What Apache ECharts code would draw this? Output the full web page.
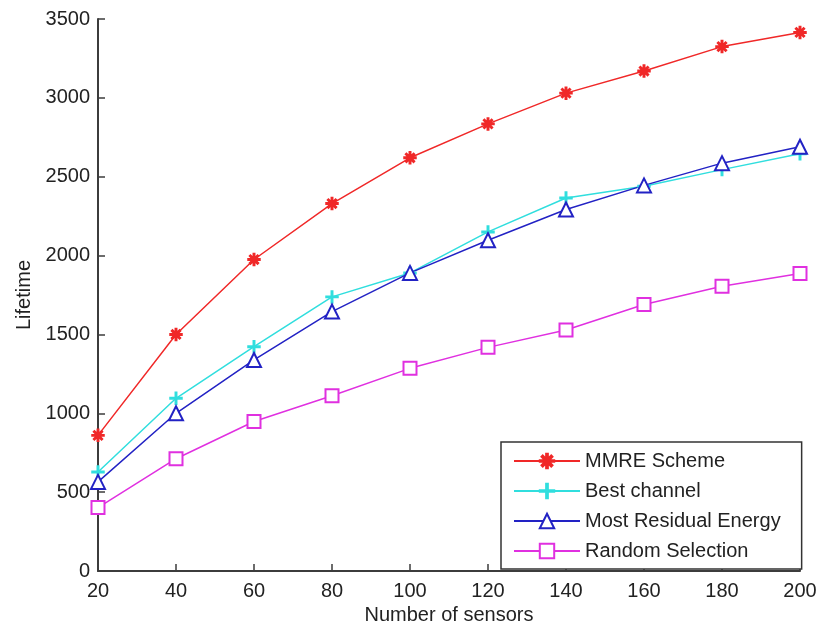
<!DOCTYPE html>
<html>
<head>
<meta charset="utf-8">
<script src="https://cdn.jsdelivr.net/npm/echarts@6/dist/echarts.min.js"></script>
<style>
  html, body { margin: 0; padding: 0; background: #fff; }
  #chart { width: 820px; height: 631px; }
</style>
</head>
<body>
<div id="chart"></div>
<script>
// 传感器数量
const sensors = [20, 40, 60, 80, 100, 120, 140, 160, 180, 200];
const mmre = [860, 1500, 1975, 2330, 2620, 2835, 3030, 3170, 3325, 3415];
const bestChannel = [628, 1095, 1422, 1738, 1890, 2150, 2365, 2440, 2545, 2645];
const mostResidual = [565, 1000, 1338, 1645, 1890, 2097, 2292, 2445, 2586, 2690];
const randomSel = [402, 712, 948, 1111, 1285, 1418, 1528, 1690, 1806, 1886];
const names = ['MMRE Scheme', 'Best channel', 'Most Residual Energy', 'Random Selection'];

const pair = (arr) => sensors.map((x, i) => [x, arr[i]]);

// matlab 风格的 * 和 + 标记
const starPath = 'path://M4.4,0 L5.6,0 L5.6,10 L4.4,10 Z M0,4.4 L10,4.4 L10,5.6 L0,5.6 Z ' +
    'M2.04,1.2 L8.8,7.96 L7.96,8.8 L1.2,2.04 Z M7.96,1.2 L8.8,2.04 L2.04,8.8 L1.2,7.96 Z';
const plusPath = 'path://M4.4,0 L5.6,0 L5.6,4.4 L10,4.4 L10,5.6 L5.6,5.6 L5.6,10 L4.4,10 L4.4,5.6 L0,5.6 L0,4.4 L4.4,4.4 Z';

const font = 'Liberation Sans, Arial, sans-serif';
const axisColor = '#3c3c3c';

const makeSeries = (name, arr, color, symbol, size) => ({
    name: name,
    type: 'line',
    data: pair(arr),
    symbol: symbol,
    symbolSize: size,
    showAllSymbol: true,
    lineStyle: { color: color, width: 1.5 },
    itemStyle: { color: color, borderColor: color, borderWidth: 1.5 },
    emphasis: { disabled: true },
});

const chart = echarts.init(document.getElementById('chart'));
chart.setOption({
    animation: false,
    grid: { left: 98, right: 20, top: 19, bottom: 60 },
    legend: {
        left: 501,
        top: 442,
        orient: 'vertical',
        data: names,
        backgroundColor: '#fff',
        borderColor: '#333',
        borderWidth: 1.5,
        borderRadius: 0,
        padding: [9, 21, 8, 12],
        itemGap: 10,
        itemWidth: 66,
        itemHeight: 18,
        textStyle: { fontFamily: font, fontSize: 20, color: '#222', lineHeight: 20 },
    },
    xAxis: {
        type: 'value',
        min: 20,
        max: 200,
        interval: 20,
        name: 'Number of sensors',
        nameLocation: 'middle',
        nameGap: 31,
        nameTextStyle: { fontFamily: font, fontSize: 20, color: '#222' },
        axisLine: { lineStyle: { color: axisColor, width: 2 } },
        axisTick: { inside: true, length: 7, lineStyle: { color: axisColor, width: 1.5 } },
        axisLabel: { fontFamily: font, fontSize: 20, color: '#222', margin: 10 },
        splitLine: { show: false },
    },
    yAxis: {
        type: 'value',
        min: 0,
        max: 3500,
        interval: 500,
        name: 'Lifetime',
        nameLocation: 'middle',
        nameGap: 63,
        nameTextStyle: { fontFamily: font, fontSize: 20, color: '#222' },
        axisLine: { show: true, lineStyle: { color: axisColor, width: 2 } },
        axisTick: { show: true, inside: true, length: 7, lineStyle: { color: axisColor, width: 1.5 } },
        axisLabel: {
            fontFamily: font,
            fontSize: 20,
            color: '#222',
            margin: 8,
            formatter: (v) => String(v),
        },
        splitLine: { show: false },
    },
    series: [
        makeSeries(names[0], mmre, '#f02828', starPath, 12),
        makeSeries(names[1], bestChannel, '#30dede', plusPath, 12),
        makeSeries(names[2], mostResidual, '#2222c4', 'emptyTriangle', 14),
        makeSeries(names[3], randomSel, '#e030e0', 'emptyRect', 13),
    ],
});
</script>
</body>
</html>
